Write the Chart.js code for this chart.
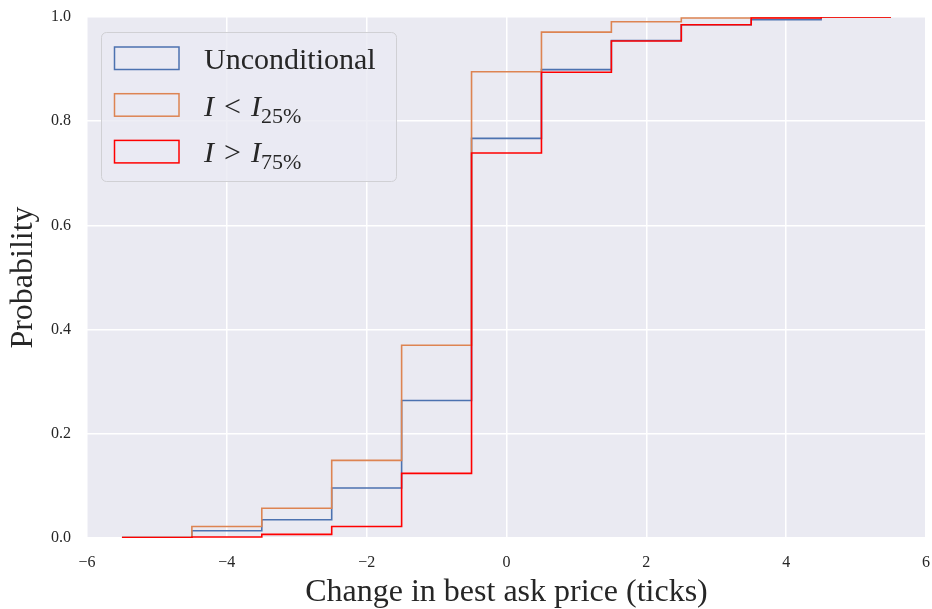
<!DOCTYPE html>
<html>
<head>
<meta charset="utf-8">
<script src="https://cdn.jsdelivr.net/npm/chart.js@4"></script>
<style>
  html, body { margin: 0; padding: 0; background: #fff; }
  #wrap { width: 932px; height: 609px; }
</style>
</head>
<body>
<div id="wrap"><canvas id="myChart" width="932" height="609"></canvas></div>
<script>
// bin edges of the cumulative histogram (ticks)
const binEdges = [-5.5, -4.5, -3.5, -2.5, -1.5, -0.5, 0.5, 1.5, 2.5, 3.5, 4.5, 5.5];
// cumulative probability of each bin
const unconditional = [0.001, 0.014, 0.035, 0.096, 0.264, 0.767, 0.899, 0.955, 0.985, 0.995, 1.0];
const lowImbalance  = [0.001, 0.022, 0.057, 0.149, 0.370, 0.895, 0.971, 0.991, 0.998, 0.999, 1.0];
const highImbalance = [0.001, 0.002, 0.007, 0.022, 0.124, 0.739, 0.894, 0.954, 0.985, 0.998, 1.0];
const xTicks = [-6, -4, -2, 0, 2, 4, 6];
const yTicks = [0, 0.2, 0.4, 0.6, 0.8, 1.0];

const legendItems = [
    { color: '#4C72B0', main: 'Unconditional', sub: '' },
    { color: '#DD8452', main: 'I < I', sub: '25%' },
    { color: '#FF0000', main: 'I > I', sub: '75%' }
];

const serif = '"Liberation Serif", "DejaVu Serif", serif';

function puntos(valores) {
    // step line: each bin's value starts at its left edge, last point closes at the right edge
    return binEdges.map((e, i) => ({ x: e, y: valores[Math.min(i, valores.length - 1)] }));
}

const fondo = {
    id: 'fondo',
    beforeDraw(chart) {
        const { ctx, chartArea: a } = chart;
        ctx.save();
        ctx.fillStyle = '#EAEAF2';
        ctx.fillRect(a.left, a.top, a.right - a.left, a.bottom - a.top);
        ctx.restore();
    }
};

function textoMath(ctx, item, x, y) {
    // draws "I < I_25%" style labels with italic I and a subscript
    if (!item.sub) {
        ctx.font = '30px ' + serif;
        ctx.fillText(item.main, x, y);
        return;
    }
    let cx = x;
    ctx.font = 'italic 30px ' + serif;
    ctx.fillText('I', cx, y);
    cx += ctx.measureText('I').width + 10;
    ctx.font = '30px ' + serif;
    const op = item.main.charAt(2);
    ctx.fillText(op, cx, y);
    cx += ctx.measureText(op).width + 10;
    ctx.font = 'italic 30px ' + serif;
    ctx.fillText('I', cx, y);
    cx += ctx.measureText('I').width;
    ctx.font = '22px ' + serif;
    ctx.fillText(item.sub, cx, y + 7);
}

const leyenda = {
    id: 'leyenda',
    afterDraw(chart) {
        const ctx = chart.ctx;
        ctx.save();
        const bx = 101.5, by = 32.5, bw = 295, bh = 149, r = 5;
        ctx.beginPath();
        ctx.moveTo(bx + r, by);
        ctx.arcTo(bx + bw, by, bx + bw, by + bh, r);
        ctx.arcTo(bx + bw, by + bh, bx, by + bh, r);
        ctx.arcTo(bx, by + bh, bx, by, r);
        ctx.arcTo(bx, by, bx + bw, by, r);
        ctx.closePath();
        ctx.fillStyle = 'rgba(234,234,242,0.8)';
        ctx.fill();
        ctx.strokeStyle = '#d0d0d4';
        ctx.lineWidth = 1;
        ctx.stroke();
        legendItems.forEach((it, i) => {
            const y0 = 47 + i * 46.7;
            ctx.strokeStyle = it.color;
            ctx.lineWidth = 1.5;
            ctx.strokeRect(114.5, y0, 64.5, 22.5);
            ctx.fillStyle = '#262626';
            ctx.textBaseline = 'alphabetic';
            ctx.textAlign = 'left';
            textoMath(ctx, it, 204, y0 + 22);
        });
        ctx.restore();
    }
};

function grafico() {
    const ctx = document.getElementById('myChart');
    new Chart(ctx, {
        type: 'line',
        data: {
            datasets: [{
                label: 'Unconditional',
                data: puntos(unconditional),
                borderColor: '#4C72B0',
                order: 3
            }, {
                label: 'I < I25%',
                data: puntos(lowImbalance),
                borderColor: '#DD8452',
                order: 2
            }, {
                label: 'I > I75%',
                data: puntos(highImbalance),
                borderColor: '#FF0000',
                order: 1
            }]
        },
        options: {
            responsive: false,
            animation: false,
            devicePixelRatio: 1,
            layout: { padding: { top: 17, right: 6, left: 0, bottom: 0 } },
            elements: {
                line: { stepped: 'before', borderWidth: 1.6, fill: false, tension: 0 },
                point: { radius: 0 }
            },
            plugins: {
                legend: { display: false },
                tooltip: { enabled: false }
            },
            scales: {
                x: {
                    type: 'linear',
                    min: -6,
                    max: 6,
                    afterBuildTicks: (axis) => { axis.ticks = xTicks.map(v => ({ value: v })); },
                    afterFit: (axis) => {
                        axis.height = 71;
                        axis.paddingLeft = 0;
                        axis.paddingRight = 0;
                    },
                    grid: { color: '#ffffff', lineWidth: 1.5, drawTicks: false },
                    border: { display: false },
                    ticks: {
                        color: '#262626',
                        padding: 15,
                        maxRotation: 0,
                        font: { family: serif, size: 16 },
                        callback: (v) => String(v).replace('-', '\u2212')
                    },
                    title: {
                        display: true,
                        text: 'Change in best ask price (ticks)',
                        color: '#262626',
                        font: { family: serif, size: 32, lineHeight: 1 },
                        padding: { top: 0, bottom: 0 }
                    }
                },
                y: {
                    min: 0,
                    max: 1,
                    afterBuildTicks: (axis) => { axis.ticks = yTicks.map(v => ({ value: v })); },
                    afterFit: (axis) => {
                        axis.width = 87;
                        axis.paddingTop = 0;
                        axis.paddingBottom = 0;
                    },
                    grid: { color: '#ffffff', lineWidth: 1.5, drawTicks: false },
                    border: { display: false },
                    ticks: {
                        color: '#262626',
                        padding: 16,
                        font: { family: serif, size: 16 },
                        callback: (v) => v.toFixed(1)
                    },
                    title: {
                        display: true,
                        text: 'Probability',
                        color: '#262626',
                        font: { family: serif, size: 32 },
                        padding: { bottom: 0 }
                    }
                }
            }
        },
        plugins: [fondo, leyenda]
    });
}

grafico();
</script>
</body>
</html>
